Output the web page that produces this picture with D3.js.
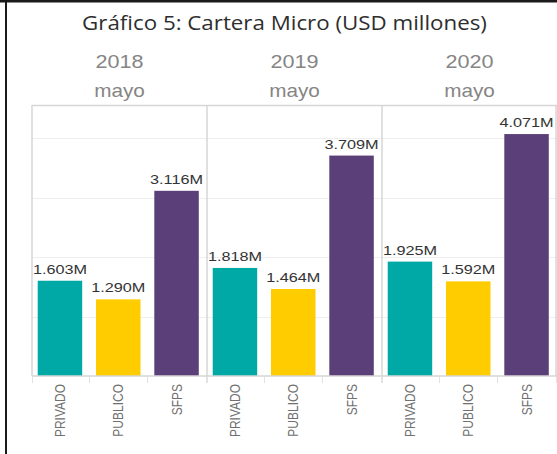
<!DOCTYPE html>
<html>
<head>
<meta charset="utf-8">
<script src="https://cdn.jsdelivr.net/npm/d3@7"></script>
<style>
  html, body { margin: 0; padding: 0; background: #fff; }
  svg { display: block; }
</style>
</head>
<body>
<svg id="chart" width="557" height="454"></svg>
<script>
// ---- data ----
const years = ["2018", "2019", "2020"];
const months = ["mayo", "mayo", "mayo"];
const categories = ["PRIVADO", "PUBLICO", "SFPS"];
const privado = [1.603, 1.818, 1.925];
const publico = [1.290, 1.464, 1.592];
const sfps = [3.116, 3.709, 4.071];
const gridTicks = [1, 2, 3, 4];
const chartTitle = "Gráfico 5: Cartera Micro (USD millones)";

const seriesByCat = { PRIVADO: privado, PUBLICO: publico, SFPS: sfps };
const colors = { PRIVADO: "#00a9a6", PUBLICO: "#ffcc00", SFPS: "#5b3f78" };

(function () {
const svg = d3.select("#chart");

// frame lines (outer dark border)
svg.append("rect").attr("x", 0).attr("y", 0).attr("width", 557).attr("height", 2.5).attr("fill", "#1a1a1a");
svg.append("rect").attr("x", 5).attr("y", 0).attr("width", 2).attr("height", 454).attr("fill", "#1a1a1a");

// scales
const plotTop = 105, plotBottom = 376, plotLeft = 32, plotRight = 557;
const y = d3.scaleLinear().domain([0, 4.56]).range([plotBottom, plotTop]);
const xPanel = d3.scaleBand().domain(years).range([plotLeft, plotRight]).padding(0);
const xCat = d3.scaleBand().domain(categories).range([0, 172.5]).paddingInner(0.237).paddingOuter(0.098);

// helper: stretch text horizontally
function stretch(sel, sx) {
  sel.each(function() {
    const t = d3.select(this);
    const x = +t.attr("x"), yy = +t.attr("y");
    t.attr("x", 0).attr("y", 0).attr("transform", `translate(${x},${yy}) scale(${sx},1)`);
  });
}

// title
const tt = svg.append("text").attr("x", 284.5).attr("y", 29.5)
  .attr("text-anchor", "middle")
  .attr("font-family", "'Open Sans', sans-serif").attr("font-size", 20)
  .attr("fill", "#2e2e2e").text(chartTitle);
{
  const w = tt.node().getComputedTextLength();
  stretch(tt, 405 / w);
}

// gridlines
const g = svg.append("g");
g.selectAll("line.grid").data(gridTicks).join("line")
  .attr("x1", plotLeft).attr("x2", plotRight)
  .attr("y1", d => Math.round(y(d)) + 0.5).attr("y2", d => Math.round(y(d)) + 0.5)
  .attr("stroke", "#eeeeee").attr("stroke-width", 1);

// panels
years.forEach((yr, i) => {
  const px = xPanel(yr);
  const cx = px + xPanel.bandwidth() / 2;

  const yl = svg.append("text").attr("x", cx).attr("y", 68)
    .attr("text-anchor", "middle")
    .attr("font-family", "'Liberation Sans', Arial, sans-serif").attr("font-size", 18)
    .attr("fill", "#858585").text(yr);
  stretch(yl, 1.2);
  const ml = svg.append("text").attr("x", cx).attr("y", 97)
    .attr("text-anchor", "middle")
    .attr("font-family", "'Liberation Sans', Arial, sans-serif").attr("font-size", 18)
    .attr("fill", "#858585").text(months[i]);
  stretch(ml, 1.15);

  const pg = svg.append("g").attr("transform", `translate(${px},0)`);
  const rows = categories.map(c => ({ cat: c, v: seriesByCat[c][i] }));

  pg.selectAll("rect.bar").data(rows).join("rect")
    .attr("x", d => xCat(d.cat))
    .attr("y", d => y(d.v))
    .attr("width", xCat.bandwidth())
    .attr("height", d => y(0) - y(d.v))
    .attr("fill", d => colors[d.cat]);

  pg.selectAll("text.val").data(rows).join("text")
    .attr("x", d => xCat(d.cat) + xCat.bandwidth() / 2)
    .attr("y", d => y(d.v) - 7)
    .attr("text-anchor", "middle")
    .attr("font-family", "'Liberation Sans', Arial, sans-serif").attr("font-size", 12.5)
    .attr("fill", "#333")
    .text(d => d3.format(".3f")(d.v) + "M")
    .call(s => stretch(s, 1.3));

  // category labels (rotated)
  pg.selectAll("text.cat").data(rows).join("text")
    .attr("text-anchor", "end")
    .attr("dy", "0.36em")
    .attr("transform", d => `translate(${xCat(d.cat) + xCat.bandwidth() / 2},384) scale(1.15,1) rotate(-90)`)
    .attr("font-family", "'Liberation Sans', Arial, sans-serif").attr("font-size", 12)
    .attr("fill", "#707070")
    .text(d => d.cat);

  // tick marks at band boundaries
  const bounds = [0].concat(categories.map(c => xCat(c) + xCat.bandwidth() + xCat.step() * xCat.paddingInner() / 2));
  pg.selectAll("line.tick").data(bounds).join("line")
    .attr("x1", d => Math.round(d) + 0.5).attr("x2", d => Math.round(d) + 0.5)
    .attr("y1", plotBottom).attr("y2", plotBottom + 7)
    .attr("stroke", "#e2e2e2").attr("stroke-width", 1);
});

// plot frame + dividers
const frameColor = "#d6d6d6";
svg.append("line").attr("x1", plotLeft).attr("x2", plotRight).attr("y1", plotTop + 0.5).attr("y2", plotTop + 0.5)
  .attr("stroke", frameColor).attr("stroke-width", 1.5);
svg.append("line").attr("x1", plotLeft).attr("x2", plotRight).attr("y1", plotBottom).attr("y2", plotBottom)
  .attr("stroke", frameColor).attr("stroke-width", 1.5);
svg.selectAll("line.div").data(years.concat(["end"])).join("line")
  .attr("x1", d => d === "end" ? plotRight - 1 : xPanel(d))
  .attr("x2", d => d === "end" ? plotRight - 1 : xPanel(d))
  .attr("y1", plotTop).attr("y2", plotBottom)
  .attr("stroke", frameColor).attr("stroke-width", 1.5);
})();
</script>
</body>
</html>
